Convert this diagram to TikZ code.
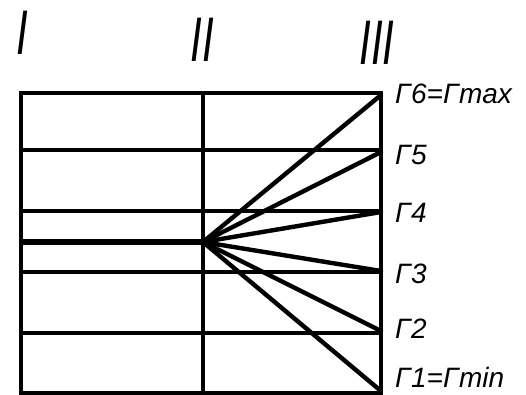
\documentclass[tikz,border=0pt]{standalone}
\usepackage{fontspec}
\usepackage{graphicx}
\setmainfont{Liberation Sans}
\usepackage{tikz}
\usetikzlibrary{positioning}

\begin{document}
\begin{tikzpicture}[
  x=1pt, y=-1pt,
  grid/.style={draw, line width=3.2pt},
  ray/.style={draw, line width=4.4pt, line cap=round},
  lbl/.style={anchor=west, inner sep=0pt, font=\fontsize{28}{29}\selectfont\itshape},
  num/.style={inner sep=0pt, font=\fontsize{42}{42}\selectfont\itshape}
]
\useasboundingbox (0,0) rectangle (526,394);
% frame and table
\draw[grid] (21,93) rectangle (381,393);
\draw[grid] (203,93) -- (203,393);
\foreach \yy in {150,211,272,333}
  \draw[grid] (21,\yy) -- (381,\yy);

% source and ends of the rays
\coordinate (start) at (21,242);
\coordinate (src) at (203,242);
\coordinate (g6) at (381,95);
\coordinate (g5) at (381,152);
\coordinate (g4) at (381,212);
\coordinate (g3) at (381,271);
\coordinate (g2) at (381,331);
\coordinate (g1) at (381,391);

\draw[line width=6.5pt] (start) -- (src);
\foreach \g in {g1,g2,g3,g4,g5,g6}
  \draw[ray] (src) -- (\g);

% labels
\node[lbl] (l6) at (395,94) {Γ6=Γmax};
\node[lbl] (l5) at (395,155) {Γ5};
\node[lbl] (l4) at (395,213) {Γ4};
\node[lbl] (l3) at (395,274) {Γ3};
\node[lbl] (l2) at (395,329) {Γ2};
\node[lbl] (l1) at (395,377) {Γ1=Γmin};

\node[num] (c1) at (22,33) {\scalebox{1}[1.5]{I}};
\node[num] (c2) at (202,40) {\scalebox{1}[1.5]{II}};
\node[num] (c3) at (377,43) {\scalebox{1}[1.5]{III}};
\end{tikzpicture}
\end{document}
